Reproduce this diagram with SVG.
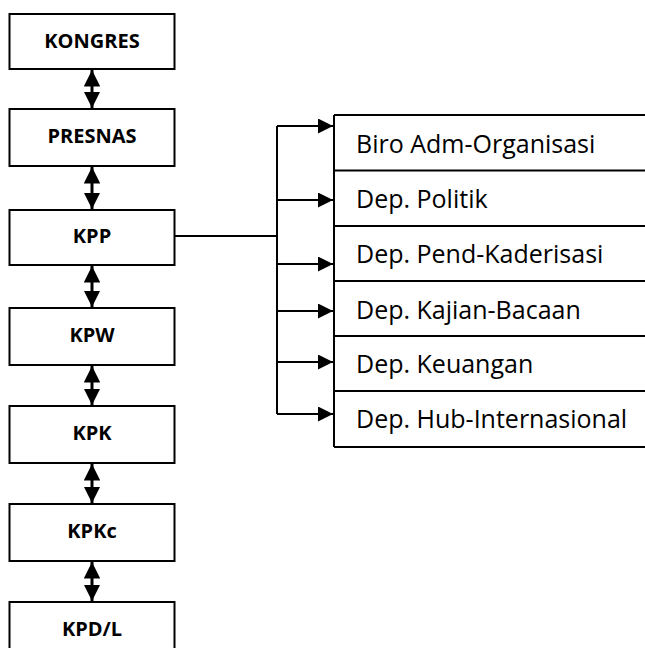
<svg xmlns="http://www.w3.org/2000/svg" width="645" height="648" viewBox="0 0 645 648">
  <style>
    .box { fill: #fff; stroke: #000; stroke-width: 2; }
    .lbl { font-family: "Open Sans", "Liberation Sans", sans-serif; font-weight: bold; font-size: 20px; text-anchor: middle; fill: #000; }
    .dep { font-family: "Open Sans", "Liberation Sans", sans-serif; font-size: 25px; fill: #000; }
    .line { fill: none; stroke: #000; stroke-width: 2; }
    .shaft { fill: none; stroke: #000; stroke-width: 3; }
  </style>
  <defs>
    <marker id="tri" viewBox="0 0 10 10" refX="10" refY="5" markerWidth="7.5" markerHeight="7.5" markerUnits="strokeWidth" orient="auto">
      <path d="M0,0 L10,5 L0,10 Z" fill="#000"/>
    </marker>
    <marker id="dbl" viewBox="0 0 10 10" refX="10" refY="5" markerWidth="5.5" markerHeight="5.5" markerUnits="strokeWidth" orient="auto-start-reverse">
      <path d="M0,0 L10,5 L0,10 Z" fill="#000"/>
    </marker>
  </defs>

  <!-- hierarchy chain -->
  <g id="kongres"><rect class="box" x="9.5" y="14" width="165" height="55"/><text class="lbl" x="92" y="48">KONGRES</text></g>
  <g id="presnas"><rect class="box" x="9.5" y="109" width="165" height="57"/><text class="lbl" x="92" y="143">PRESNAS</text></g>
  <g id="kpp"><rect class="box" x="9.5" y="210" width="165" height="55"/><text class="lbl" x="92" y="243">KPP</text></g>
  <g id="kpw"><rect class="box" x="9.5" y="308" width="165" height="57"/><text class="lbl" x="92" y="342">KPW</text></g>
  <g id="kpk"><rect class="box" x="9.5" y="406" width="165" height="57"/><text class="lbl" x="92" y="440">KPK</text></g>
  <g id="kpkc"><rect class="box" x="9.5" y="504" width="165" height="57"/><text class="lbl" x="92" y="538">KPKc</text></g>
  <g id="kpdl"><rect class="box" x="9.5" y="602" width="165" height="60"/><text class="lbl" x="92" y="636">KPD/L</text></g>

  <!-- departments table -->
  <g id="departments">
    <path class="line" d="M334,115 V447 M334,115 H646 M334,170.5 H646 M334,226 H646 M334,281 H646 M334,336 H646 M334,391 H646 M334,447 H646"/>
    <g id="biro"><text class="dep" x="356" y="153">Biro Adm-Organisasi</text></g>
    <g id="politik"><text class="dep" x="356" y="208">Dep. Politik</text></g>
    <g id="kaderisasi"><text class="dep" x="356" y="263">Dep. Pend-Kaderisasi</text></g>
    <g id="kajian"><text class="dep" x="356" y="319">Dep. Kajian-Bacaan</text></g>
    <g id="keuangan"><text class="dep" x="356" y="373">Dep. Keuangan</text></g>
    <g id="hubint"><text class="dep" x="356" y="428">Dep. Hub-Internasional</text></g>
  </g>

  <!-- connectors -->
  <g id="connectors">
    <line class="shaft" x1="92" y1="70" x2="92" y2="108" marker-start="url(#dbl)" marker-end="url(#dbl)"/>
    <line class="shaft" x1="92" y1="167" x2="92" y2="209" marker-start="url(#dbl)" marker-end="url(#dbl)"/>
    <line class="shaft" x1="92" y1="266" x2="92" y2="307" marker-start="url(#dbl)" marker-end="url(#dbl)"/>
    <line class="shaft" x1="92" y1="366" x2="92" y2="405" marker-start="url(#dbl)" marker-end="url(#dbl)"/>
    <line class="shaft" x1="92" y1="464" x2="92" y2="503" marker-start="url(#dbl)" marker-end="url(#dbl)"/>
    <line class="shaft" x1="92" y1="562" x2="92" y2="601" marker-start="url(#dbl)" marker-end="url(#dbl)"/>

    <path class="line" d="M175,236 H277 M277,126 V414"/>
    <path class="line" d="M277,126 H333" marker-end="url(#tri)"/>
    <path class="line" d="M277,200 H333" marker-end="url(#tri)"/>
    <path class="line" d="M277,264 H333" marker-end="url(#tri)"/>
    <path class="line" d="M277,311 H333" marker-end="url(#tri)"/>
    <path class="line" d="M277,362 H333" marker-end="url(#tri)"/>
    <path class="line" d="M277,414 H333" marker-end="url(#tri)"/>
  </g>
</svg>
